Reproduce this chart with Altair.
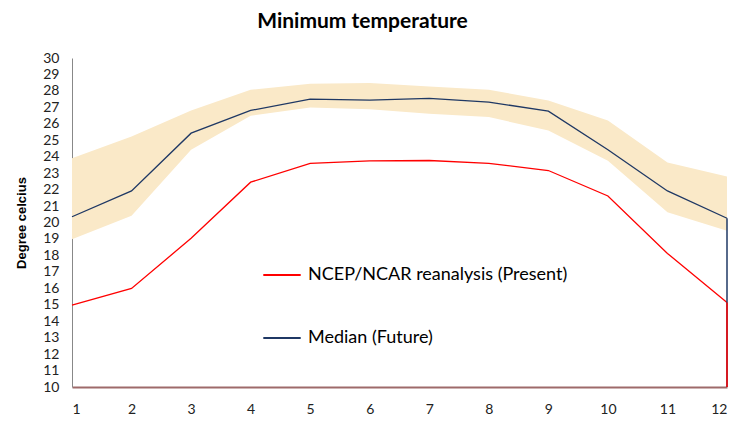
import altair as alt
import pandas as pd

months = list(range(1, 13))
present = [14.98, 15.99, 19.04, 22.45, 23.60, 23.75, 23.77, 23.60, 23.16, 21.61, 18.12, 15.14]
median_future = [20.35, 21.92, 25.43, 26.81, 27.50, 27.44, 27.54, 27.32, 26.77, 24.42, 21.92, 20.26]
band_upper = [23.91, 25.23, 26.81, 28.07, 28.43, 28.48, 28.27, 28.07, 27.42, 26.20, 23.64, 22.79]
band_lower = [18.98, 20.41, 24.42, 26.49, 26.99, 26.89, 26.61, 26.41, 25.59, 23.76, 20.62, 19.50]
y_ticks = list(range(10, 31))

S_PRESENT = "NCEP/NCAR reanalysis (Present)"
S_MEDIAN = "Median (Future)"
RED = "#FF0000"
NAVY = "#1F3864"
FONT = "Lato"

lines = pd.DataFrame(
    [{"month": m, "value": v, "series": S_PRESENT, "order": 0} for m, v in zip(months, present)]
    + [{"month": m, "value": v, "series": S_MEDIAN, "order": 1} for m, v in zip(months, median_future)]
)
band = pd.DataFrame({"month": months, "lo": band_lower, "hi": band_upper})
drops = pd.DataFrame({
    "month": [months[-1], months[-1]],
    "top": [median_future[-1], present[-1]],
    "bottom": [10, 10],
    "series": [S_MEDIAN, S_PRESENT],
})

x = alt.X("month:Q", scale=alt.Scale(domain=[1, 12], nice=False, zero=False),
          axis=alt.Axis(values=months, title=None, grid=False, ticks=False, labelPadding=15,
                        domainColor="#9E6A6A", domainWidth=2, labelFontSize=14,
                        labelFont=FONT, labelColor="#222", labelOverlap=False))
yscale = alt.Scale(domain=[10, 30], nice=False, zero=False)
y_axis = alt.Axis(values=y_ticks, title="Degree celcius", grid=False, ticks=False,
                  labelPadding=13, domainColor="#888888", labelFontSize=14, labelFont=FONT,
                  labelColor="#222", labelOverlap=False, labelBound=False,
                  titleFont="Liberation Sans",
                  titleFontSize=13, titleFontWeight="bold", titlePadding=14, titleColor="#000")

cscale = alt.Scale(domain=[S_PRESENT, S_MEDIAN], range=[RED, NAVY])
color = alt.Color("series:N", scale=cscale,
                  legend=alt.Legend(title=None, orient="none", legendX=190, legendY=197,
                                    direction="vertical", symbolType="stroke",
                                    symbolSize=1400, symbolStrokeWidth=2, labelFontSize=18,
                                    labelFont=FONT, labelColor="#000", rowPadding=34,
                                    labelOffset=6, labelLimit=400))

area = alt.Chart(band).mark_area(color="#FAE9C8", opacity=1).encode(
    x=x, y=alt.Y("lo:Q", scale=yscale, axis=y_axis), y2="hi:Q")

line = alt.Chart(lines).mark_line(strokeWidth=1.3).encode(
    x=x, y=alt.Y("value:Q", scale=yscale, axis=y_axis), color=color, order="order:O")

drop = alt.Chart(drops).mark_rule(strokeWidth=1.5).encode(
    x=x, y=alt.Y("top:Q", scale=yscale, axis=y_axis), y2="bottom:Q",
    color=alt.Color("series:N", scale=cscale, legend=None))

chart = alt.layer(area, line, drop).properties(
    width=655, height=329,
    padding={"left": 64, "top": 50, "right": 2, "bottom": 28},
    autosize=alt.AutoSizeParams(type="none"),
    title=alt.TitleParams("Minimum temperature", font=FONT, fontSize=21, fontWeight="bold",
                          anchor="middle", dx=-37, offset=19, color="#000"),
).configure_view(stroke=None).configure_axisY(labelOverlap=False)

chart.save("out.html", embed_options={"renderer": "svg", "actions": False})
